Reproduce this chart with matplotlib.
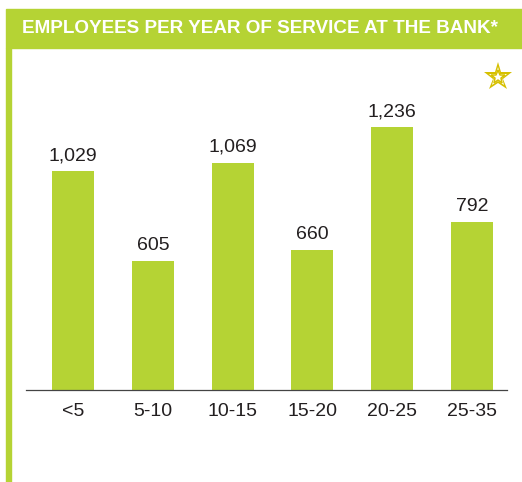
import matplotlib
matplotlib.use("Agg")
import matplotlib.pyplot as plt
from matplotlib.patches import Rectangle

categories = ["<5", "5-10", "10-15", "15-20", "20-25", "25-35"]
employees = [1029, 605, 1069, 660, 1236, 792]
value_labels = ["1,029", "605", "1,069", "660", "1,236", "792"]
title = "EMPLOYEES PER YEAR OF SERVICE AT THE BANK*"

GREEN = "#b5d334"
TEXT = "#231f20"
GOLD = "#d6c000"

W, H = 522, 482
plt.rcParams["font.family"] = ["Liberation Sans", "DejaVu Sans"]
fig = plt.figure(figsize=(W / 100, H / 100), dpi=100)


def fx(px):
    return px / W


def fy(py):
    return 1 - py / H


# header band and left rule
fig.patches.append(Rectangle((fx(6), fy(48)), fx(516), 39 / H,
                             transform=fig.transFigure, color=GREEN, zorder=0))
fig.patches.append(Rectangle((fx(6), 0), fx(5), fy(48),
                             transform=fig.transFigure, color=GREEN, zorder=0))
fig.text(fx(22), fy(28.5), title, color="white", fontsize=13.6,
         fontweight="bold", va="center", ha="left")

# chart area
left, right = 25.7, 507.3
base, top = 390, 100
ax = fig.add_axes([fx(left), fy(base), fx(right - left), (base - top) / H])
pos = list(range(len(categories)))
ax.bar(pos, employees, width=0.526, color=GREEN, zorder=2)
ax.set_xlim(-0.593, 5.442)
ax.set_ylim(0, (base - top) / 0.2125)
for p, v, lab in zip(pos, employees, value_labels):
    ax.annotate(lab, (p, v), xytext=(0, 5), textcoords="offset points",
                ha="center", va="bottom", fontsize=14, color=TEXT)
ax.set_xticks(pos)
ax.set_xticklabels(categories, fontsize=14, color=TEXT)
ax.tick_params(axis="x", length=0, pad=9)
ax.set_yticks([])
for s in ("top", "right", "left"):
    ax.spines[s].set_visible(False)
ax.spines["bottom"].set_color("#444444")
ax.spines["bottom"].set_linewidth(0.9)
ax.patch.set_alpha(0)

# star badge
sx, sy = fx(498), fy(77)
fig.add_artist(plt.Line2D([sx], [sy], marker="*", markersize=21,
                          color=GOLD, markeredgewidth=0,
                          transform=fig.transFigure))
fig.add_artist(plt.Line2D([sx], [sy], marker="*", markersize=14,
                          color="white", markeredgewidth=0,
                          transform=fig.transFigure))
fig.add_artist(plt.Line2D([sx], [sy], marker="*", markersize=10,
                          markerfacecolor="white", markeredgecolor=GOLD,
                          markeredgewidth=1.1, transform=fig.transFigure))

fig.savefig("out.png", dpi=100)
